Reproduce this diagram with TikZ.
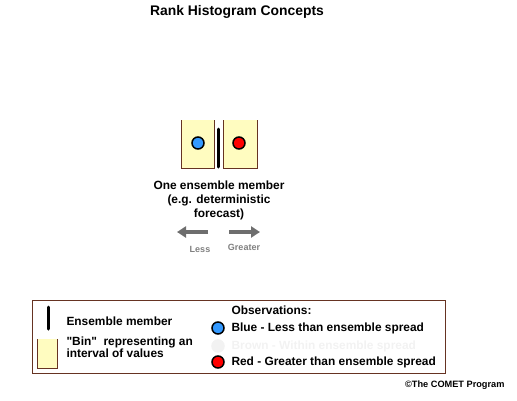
\documentclass[tikz,border=0pt]{standalone}
\usepackage{fontspec}
\setmainfont{Liberation Sans}
\usetikzlibrary{arrows.meta}
\definecolor{binfill}{HTML}{FFFCC0}
\definecolor{binedge}{HTML}{663322}
\definecolor{obsblue}{HTML}{3399FF}
\definecolor{arrowgray}{HTML}{6E6E6E}
\definecolor{faint}{HTML}{F2F2F2}
\begin{document}
\begin{tikzpicture}[x=1pt,y=-1pt,>=Stealth,
  lbl/.style={font=\bfseries\fontsize{11.9}{14}\selectfont},
  small/.style={font=\bfseries\fontsize{9}{10}\selectfont,text=gray},
  obs/.style={circle,draw=black,line width=1.5pt,minimum size=12pt,inner sep=0pt},
  member/.style={line width=3pt,line cap=round},
  binline/.style={draw=binedge,line width=1pt},
  shiftarrow/.style={-{Triangle[length=9pt,width=11pt]},line width=4pt,arrowgray}]
\useasboundingbox (0,0) rectangle (517,400);
\node[font=\bfseries\fontsize{13.9}{15}\selectfont] (title) at (237,12) {Rank Histogram Concepts};
% the two bins
\fill[binfill] (181,120) rectangle (214,168);
\draw[binline] (181,120) -- (181,168) -- (214,168) -- (214,120);
\fill[binfill] (223,120) rectangle (257,168);
\draw[binline] (223,120) -- (223,168) -- (257,168) -- (257,120);
\coordinate (mtop) at (218,129); \coordinate (mbot) at (218,167);
\draw[member] (mtop) -- (mbot);
\node[obs,fill=obsblue] (low) at (198,143) {};
\node[obs,fill=red] (high) at (239,143) {};
\node[lbl,align=center] (desc) at (219,200) {One ensemble member\\(e.g. deterministic\\forecast)};
\coordinate (lesstail) at (208,232); \coordinate (lesstip) at (177,232);
\coordinate (gttail) at (229,232); \coordinate (gttip) at (260,232);
\draw[shiftarrow] (lesstail) -- (lesstip);
\draw[shiftarrow] (gttail) -- (gttip);
\node[small] (less) at (200,249) {Less};
\node[small] (greater) at (244,247) {Greater};
% legend
\draw[binline] (32,300) rectangle (445,373);
\coordinate (ktop) at (48,307); \coordinate (kbot) at (48,329);
\draw[member] (ktop) -- (kbot);
\node[lbl,anchor=west] (kmember) at (63,321) {Ensemble member};
\fill[binfill] (37,339) rectangle (57,368);
\draw[binline] (37,339) -- (37,368) -- (57,368) -- (57,339);
\node[anchor=west,align=left,font=\bfseries\fontsize{11.9}{9.5}\selectfont] (kbin) at (63,347.5) {\textquotedbl Bin\textquotedbl\ \ representing an\\interval of values};
\node[lbl,anchor=west] (kobs) at (228,310) {Observations:};
\node[obs,fill=obsblue] (kblue) at (218,328) {};
\node[lbl,anchor=west] (kbluetext) at (228,328) {Blue - Less than ensemble spread};
\node[obs,draw=faint,fill=faint] (kbrown) at (218,346) {};
\node[lbl,anchor=west,text=faint] (kbrowntext) at (228,346) {Brown - Within ensemble spread};
\node[obs,fill=red] (kred) at (218,362) {};
\node[lbl,anchor=west] (kredtext) at (228,362) {Red - Greater than ensemble spread};
\node[anchor=east,font=\bfseries\fontsize{9.2}{11}\selectfont] (credit) at (508,385) {©The COMET Program};
\end{tikzpicture}
\end{document}
